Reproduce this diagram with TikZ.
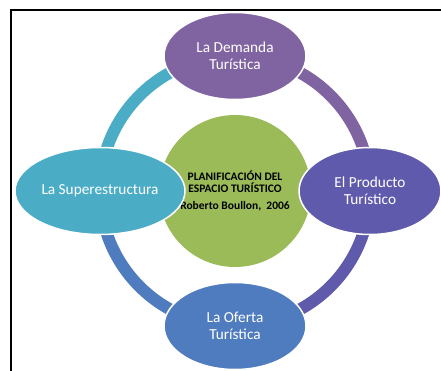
\documentclass[tikz,border=0pt]{standalone}
\usepackage{fontspec}
\setmainfont{Carlito}
\usetikzlibrary{shapes.geometric}

\definecolor{demanda}{HTML}{8064A2}
\definecolor{producto}{HTML}{5F5AAB}
\definecolor{oferta}{HTML}{4F7BBF}
\definecolor{superestr}{HTML}{4BACC6}
\definecolor{centro}{HTML}{9BBB59}

\begin{document}
\begin{tikzpicture}[
    x=1pt, y=1pt,
    ring/.style={line width=12pt},
    bubble/.style={ellipse, draw=white, line width=1.5pt, text=white,
        font=\fontsize{15.3}{17}\selectfont, align=center,
        minimum width=142pt, minimum height=87pt, inner sep=0pt}
]
    \useasboundingbox (0,0) rectangle (441,370);

    % Define Coordinates
    \coordinate (C) at (235,179); % Centre
    \coordinate (FR) at (450,360); % Frame Right
    \coordinate (FL) at (11,360); % Frame Corner
    \coordinate (FB) at (11,-10); % Frame Bottom

    % Frame
    \draw[line width=1.6pt] (FR) -- (FL) -- (FB);

    % Centre Circle (text lies under the ellipses)
    \node[circle, fill=centro, minimum size=152pt, inner sep=0pt, align=center,
        font=\fontsize{11.5}{12}\selectfont\bfseries] (plan) at (C)
        {PLANIFICACIÓN DEL\\ESPACIO TURÍSTICO\\[5pt]Roberto Boullon,\ \ 2006};

    % Outer Positions
    \path (C) ++(90:135) coordinate (T);
    \path (C) ++(0:135) coordinate (R);
    \path (C) ++(-90:135) coordinate (B);
    \path (C) ++(180:135) coordinate (L);

    % Ring Segments
    \draw[ring, superestr] (L) arc[start angle=180, end angle=90, radius=135];
    \draw[ring, demanda] (T) arc[start angle=90, end angle=0, radius=135];
    \draw[ring, producto] (R) arc[start angle=0, end angle=-90, radius=135];
    \draw[ring, oferta] (B) arc[start angle=-90, end angle=-180, radius=135];

    % Ellipses
    \node[bubble, fill=demanda] (dem) at (T) {La Demanda\\Turística};
    \node[bubble, fill=producto] (prod) at (R) {El Producto\\Turístico};
    \node[bubble, fill=oferta] (ofe) at (B) {La Oferta\\Turística};
    \node[bubble, fill=superestr, minimum width=170pt] (sup) at (L) {La Superestructura};

\end{tikzpicture}
\end{document}
